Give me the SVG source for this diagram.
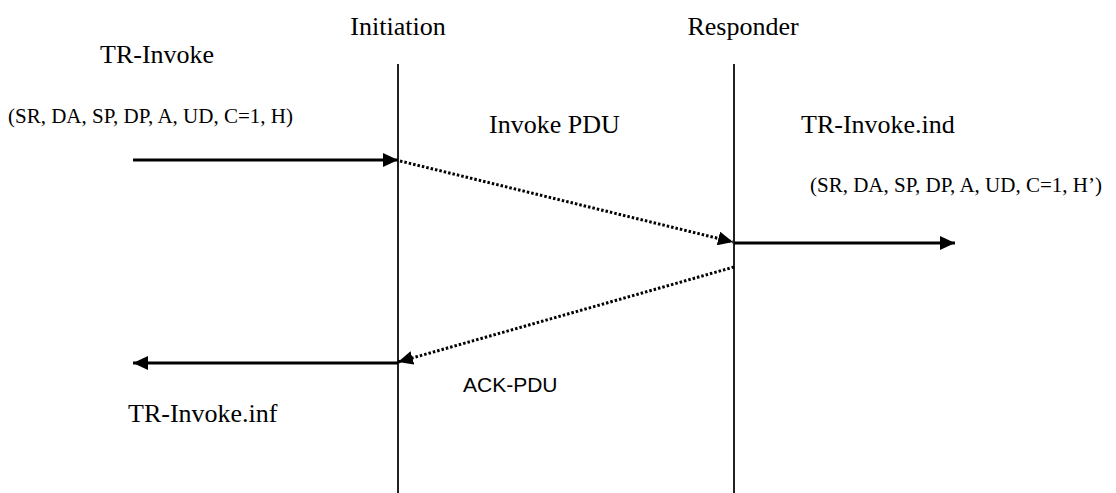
<svg xmlns="http://www.w3.org/2000/svg" width="1116" height="493" viewBox="0 0 1116 493">
<style>
text.serif{font-family:'Liberation Serif','Times New Roman',Times,serif;fill:#000}
text.big{font-size:26px}
text.small{font-size:21px}
text.sans{font-family:'Liberation Sans',Arial,sans-serif;font-size:21px;fill:#000}
.life{stroke:#222;stroke-width:2;fill:none}
.solid{stroke:#000;stroke-width:3;fill:none}
.dot{stroke:#000;stroke-width:3;fill:none;stroke-dasharray:2.5 2}
</style>
<defs>
<marker id="ah" markerUnits="userSpaceOnUse" markerWidth="16" markerHeight="14" refX="15" refY="7" orient="auto">
<path d="M0,0 L15,7 L0,14 Z" fill="#000"/>
</marker>
</defs>
<rect width="1116" height="493" fill="#fff"/>
<g id="initiation">
<text class="serif big" font-family="Liberation Serif, serif" x="398" y="35" text-anchor="middle">Initiation</text>
<line class="life" x1="398" y1="64" x2="398" y2="493"/>
</g>
<g id="responder">
<text class="serif big" font-family="Liberation Serif, serif" x="743" y="35" text-anchor="middle">Responder</text>
<line class="life" x1="734" y1="64" x2="734" y2="493"/>
</g>
<g id="tr-invoke">
<text class="serif big" font-family="Liberation Serif, serif" x="100" y="63">TR-Invoke</text>
<text class="serif small" font-family="Liberation Serif, serif" x="8" y="123">(SR, DA, SP, DP, A, UD, C=1, H)</text>
</g>
<g id="tr-invoke-ind">
<text class="serif big" font-family="Liberation Serif, serif" x="801" y="133">TR-Invoke.ind</text>
<text class="serif small" font-family="Liberation Serif, serif" x="810" y="192">(SR, DA, SP, DP, A, UD, C=1, H’)</text>
</g>
<g id="tr-invoke-inf">
<text class="serif big" font-family="Liberation Serif, serif" x="128" y="422">TR-Invoke.inf</text>
</g>
<g id="labels">
<text class="serif big" font-family="Liberation Serif, serif" x="489" y="133">Invoke PDU</text>
<text class="sans" font-family="Liberation Sans, sans-serif" x="463" y="392">ACK-PDU</text>
</g>
<g id="connectors">
<line class="solid" x1="133" y1="160" x2="398" y2="160" marker-end="url(#ah)"/>
<line class="dot" x1="400" y1="161" x2="733" y2="242" marker-end="url(#ah)"/>
<line class="solid" x1="734" y1="243" x2="955" y2="243" marker-end="url(#ah)"/>
<line class="dot" x1="734" y1="267" x2="398" y2="362" marker-end="url(#ah)"/>
<line class="solid" x1="398" y1="363" x2="133" y2="363" marker-end="url(#ah)"/>
</g>
</svg>
